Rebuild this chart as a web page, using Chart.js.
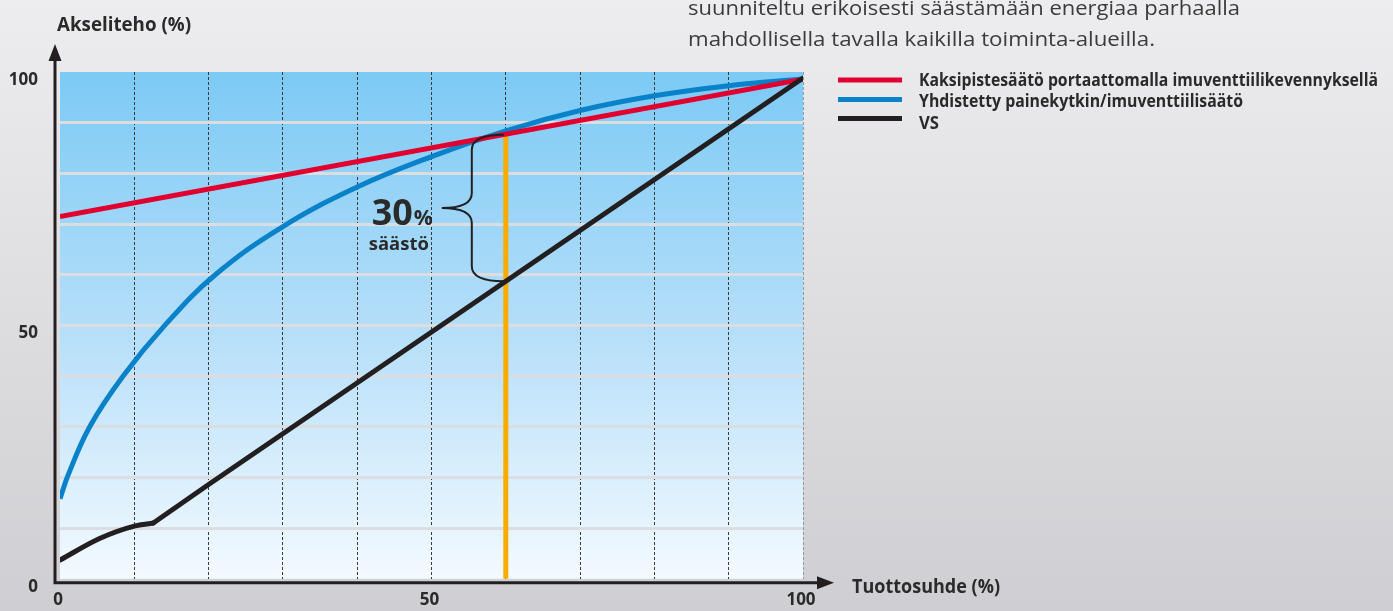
<!DOCTYPE html>
<html><head><meta charset="utf-8">
<script src="https://cdn.jsdelivr.net/npm/chart.js@4/dist/chart.umd.min.js"></script>
<style>
html,body{margin:0;padding:0;background:#e2e2e5;}
#wrap{width:1393px;height:611px;position:relative;}
canvas{display:block;}
</style>
</head><body>
<div id="wrap"><canvas id="c" width="1393" height="611"></canvas></div>
<script>
// ---- data ----
const redX = [0, 100];
const redY = [71.5, 98.6];
const blueX = [0, 1.1, 4, 8.5, 14.1, 20.9, 30, 40, 50, 60, 70, 80, 90, 100];
const blueY = [15.8, 20.5, 30, 40, 50, 60, 69.5, 77.3, 83.3, 88.4, 92.4, 95.3, 97.3, 98.6];
// VS: curved start up to the kink (index 3), then straight
const blackX = [0, 5.4, 10, 12.56, 20, 100];
const blackY = [3.7, 8.0, 10.4, 11.0, 18.6, 98.8];
const blackKink = 3;
const markX = [60, 60];
const markY = [0, 87.6];
const xTickLabels = [0, 50, 100];
const yTickLabels = [0, 50, 100];
const seriesNames = [
  'Kaksipistesäätö portaattomalla imuventtiilikevennyksellä',
  'Yhdistetty painekytkin/imuventtiilisäätö',
  'VS'
];
const xTitle = 'Tuottosuhde (%)';
const yTitle = 'Akseliteho (%)';
const savingBig = '30';
const savingPct = '%';
const savingWord = 'säästö';
const introLines = [
  'suunniteltu erikoisesti säästämään energiaa parhaalla',
  'mahdollisella tavalla kaikilla toiminta-alueilla.'
];

const pts = (xs, ys) => xs.map((x, i) => ({x: x, y: ys[i]}));
function interp(xs, ys, x) {
  for (let i = 0; i < xs.length - 1; i++) {
    if (x >= xs[i] && x <= xs[i + 1]) {
      return ys[i] + (ys[i + 1] - ys[i]) * (x - xs[i]) / (xs[i + 1] - xs[i]);
    }
  }
  return ys[ys.length - 1];
}

function fitText(ctx, text, x, y, font, width, color, baseline) {
  ctx.save();
  ctx.font = font;
  ctx.fillStyle = color;
  ctx.textAlign = 'left';
  ctx.textBaseline = baseline || 'alphabetic';
  const w = ctx.measureText(text).width;
  const s = width / w;
  ctx.translate(x, y);
  ctx.scale(s, 1);
  ctx.fillText(text, 0, 0);
  ctx.restore();
}

const INK = '#231f20';
const TXT = '#2b2a2a';

const bgPlugin = {
  id: 'bg',
  beforeDraw(chart) {
    const ctx = chart.ctx;
    const W = chart.width, H = chart.height;
    ctx.save();
    const pg = ctx.createLinearGradient(0, 0, 0, H);
    pg.addColorStop(0, '#ededef');
    pg.addColorStop(1, '#cfcfd3');
    ctx.fillStyle = pg;
    ctx.fillRect(0, 0, W, H);
    const a = chart.chartArea;
    const g = ctx.createLinearGradient(0, a.top, 0, a.bottom);
    g.addColorStop(0, '#7ccaf5');
    g.addColorStop(0.5, '#b4def9');
    g.addColorStop(1, '#f3faff');
    ctx.fillStyle = g;
    ctx.fillRect(a.left, a.top, a.right - a.left, a.bottom - a.top);
    ctx.restore();
  }
};

const overlayPlugin = {
  id: 'overlay',
  afterDraw(chart) {
    const ctx = chart.ctx;
    const a = chart.chartArea;
    const xs = chart.scales.x, ys = chart.scales.y;
    ctx.save();

    // axes with arrows
    const ax = a.left - 5, ay = a.bottom + 4;
    ctx.strokeStyle = INK;
    ctx.fillStyle = INK;
    ctx.lineWidth = 3;
    ctx.beginPath();
    ctx.moveTo(ax, ay + 1.5);
    ctx.lineTo(ax, 58);
    ctx.moveTo(ax - 1.5, ay);
    ctx.lineTo(a.right + 17, ay);
    ctx.stroke();
    ctx.beginPath();
    ctx.moveTo(ax, 44); ctx.lineTo(ax - 6.5, 61); ctx.lineTo(ax + 6.5, 61); ctx.closePath();
    ctx.fill();
    ctx.beginPath();
    ctx.moveTo(a.right + 31, ay); ctx.lineTo(a.right + 14, ay - 6.5); ctx.lineTo(a.right + 14, ay + 6.5); ctx.closePath();
    ctx.fill();

    // axis titles
    fitText(ctx, yTitle, 57, 31, 'bold 20px "Open Sans"', 134, TXT);
    fitText(ctx, xTitle, 852, 593, 'bold 20px "Open Sans"', 148, TXT);

    // intro text
    fitText(ctx, introLines[0], 688, 15, '20px "Open Sans"', 552, '#3b3b3b');
    fitText(ctx, introLines[1], 688, 46, '20px "Open Sans"', 467, '#3b3b3b');

    // legend
    const legY = [80, 99.5, 118.5];
    const legTxtY = [85.5, 107, 128.5];
    const legW = [459, 324, 20];
    for (let i = 0; i < 3; i++) {
      const ds = chart.data.datasets[i];
      ctx.strokeStyle = ds.borderColor;
      ctx.lineWidth = 5;
      ctx.beginPath();
      ctx.moveTo(838, legY[i]);
      ctx.lineTo(902, legY[i]);
      ctx.stroke();
      fitText(ctx, ds.label, 919, legTxtY[i], 'bold 17px "Open Sans"', legW[i], TXT);
    }

    // brace for saving
    const ox = xs.getPixelForValue(markX[0]);
    const top = ys.getPixelForValue(markY[1]);
    const bot = ys.getPixelForValue(interp(blackX, blackY, markX[0]));
    const mid = (top + bot) / 2;
    const xe = ox - 2, xb = ox - 34, xt = ox - 64;
    const r = 15;
    ctx.strokeStyle = INK;
    ctx.lineWidth = 2;
    ctx.beginPath();
    ctx.moveTo(xe, top);
    ctx.quadraticCurveTo(xb, top, xb, top + r);
    ctx.lineTo(xb, mid - r);
    ctx.quadraticCurveTo(xb, mid, xt, mid);
    ctx.quadraticCurveTo(xb, mid, xb, mid + r);
    ctx.lineTo(xb, bot - r);
    ctx.quadraticCurveTo(xb, bot, xe, bot);
    ctx.stroke();

    fitText(ctx, savingBig, xt - 70, mid + 17, 'bold 36px "Open Sans"', 41, TXT);
    fitText(ctx, savingPct, xt - 28, mid + 17, 'bold 21px "Open Sans"', 19, TXT);
    fitText(ctx, savingWord, xt - 73, mid + 42, 'bold 18px "Open Sans"', 60, TXT);

    ctx.restore();
  }
};

const blackCurve = pts(blackX.slice(0, blackKink + 1), blackY.slice(0, blackKink + 1));
const blackStraight = pts(blackX.slice(blackKink), blackY.slice(blackKink));

new Chart(document.getElementById('c'), {
  type: 'line',
  data: {
    datasets: [
      {label: seriesNames[0], data: pts(redX, redY), borderColor: '#e1002e', borderWidth: 5,
       pointRadius: 0, tension: 0, order: 2},
      {label: seriesNames[1], data: pts(blueX, blueY), borderColor: '#0a82c9', borderWidth: 5,
       pointRadius: 0, tension: 0.4, order: 3},
      {label: seriesNames[2], data: blackCurve, borderColor: INK, borderWidth: 5,
       pointRadius: 0, cubicInterpolationMode: 'monotone', borderCapStyle: 'round', order: 1},
      {label: '', data: pts(markX, markY), borderColor: '#f8ab00', borderWidth: 5,
       pointRadius: 0, tension: 0, order: 4},
      {label: '', data: blackStraight, borderColor: INK, borderWidth: 5,
       pointRadius: 0, tension: 0, borderCapStyle: 'round', order: 1}
    ]
  },
  options: {
    responsive: false,
    animation: false,
    devicePixelRatio: 1,
    layout: {padding: {left: 0, top: 72, right: 590, bottom: 0}},
    plugins: {legend: {display: false}, tooltip: {enabled: false}},
    scales: {
      x: {
        type: 'linear', min: 0, max: 100,
        afterFit(s) { s.height = 27; },
        ticks: {
          stepSize: 10, autoSkip: false, maxRotation: 0, padding: 11, labelOffset: -2,
          color: TXT, font: {family: 'Open Sans', weight: 'bold', size: 17},
          callback: v => xTickLabels.includes(v) ? String(v) : ''
        },
        grid: {
          drawTicks: false, lineWidth: 1,
          color: c => (c.tick && c.tick.value > 0) ? (c.tick.value === 100 ? '#8f9aa3' : '#3a3a3a') : 'rgba(0,0,0,0)'
        },
        border: {display: false, dash: [3, 2]}
      },
      y: {
        type: 'linear', min: 0, max: 100,
        afterFit(s) { s.width = 60; },
        ticks: {
          stepSize: 10, autoSkip: false, padding: 22, labelOffset: 8,
          color: TXT, font: {family: 'Open Sans', weight: 'bold', size: 17},
          callback: v => yTickLabels.includes(v) ? String(v) : ''
        },
        grid: {
          drawTicks: false, lineWidth: 3,
          color: c => (c.tick && c.tick.value > 0 && c.tick.value < 100) ? '#dcdde1' : 'rgba(0,0,0,0)'
        },
        border: {display: false}
      }
    }
  },
  plugins: [bgPlugin, overlayPlugin]
});
</script>
</body></html>
